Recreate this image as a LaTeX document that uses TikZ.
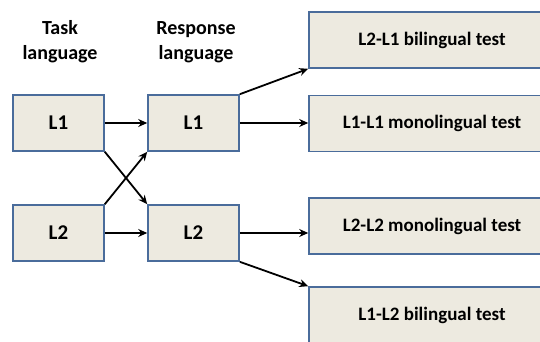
\documentclass[tikz,border=0pt]{standalone}
\usepackage{fontspec}
\setmainfont{Carlito}
\usetikzlibrary{arrows.meta}
\definecolor{boxfill}{HTML}{EDEAE0}
\definecolor{boxline}{HTML}{4A6C9B}
\begin{document}
\begin{tikzpicture}[x=1pt,y=-1pt,
  lbox/.style={draw=boxline,fill=boxfill,line width=1.6pt,minimum width=91pt,minimum height=56pt,inner sep=0pt,font=\bfseries\fontsize{21}{21}\selectfont},
  tbox/.style={draw=boxline,fill=boxfill,line width=1.6pt,minimum width=246pt,minimum height=56pt,inner sep=0pt,font=\bfseries\fontsize{19}{19}\selectfont},
  head/.style={align=center,font=\bfseries\fontsize{20}{25}\selectfont},
  arr/.style={-{Stealth[length=9pt,width=8pt,inset=3pt]},line width=1.8pt,black}]
\useasboundingbox (0,0) rectangle (540,342);
\clip (0,0) rectangle (540,342);
\node[head] (th) at (60,42) {Task\\language};
\node[head] (rh) at (196,42) {Response\\language};
\node[lbox] (t1) at (58.5,123) {L1};
\node[lbox] (t2) at (58.5,233) {L2};
\node[lbox] (r1) at (193.5,123) {L1};
\node[lbox] (r2) at (193.5,233) {L2};
\node[tbox] (b1) at (432,40) {L2-L1 bilingual test};
\node[tbox] (b2) at (432,123.5) {L1-L1 monolingual test};
\node[tbox] (b3) at (432,226) {L2-L2 monolingual test};
\node[tbox] (b4) at (432,315) {L1-L2 bilingual test};
\draw[arr] (t1.east) -- (r1.west);
\draw[arr] (t2.east) -- (r2.west);
\draw[arr] (t1.south east) -- (r2.north west);
\draw[arr] (t2.north east) -- (r1.south west);
\draw[arr] (r1.north east) -- (b1.south west);
\draw[arr] (r1.east) -- (b2.west |- r1.east);
\draw[arr] (r2.east) -- (b3.west |- r2.east);
\draw[arr] (r2.south east) -- (b4.north west);
\end{tikzpicture}
\end{document}
